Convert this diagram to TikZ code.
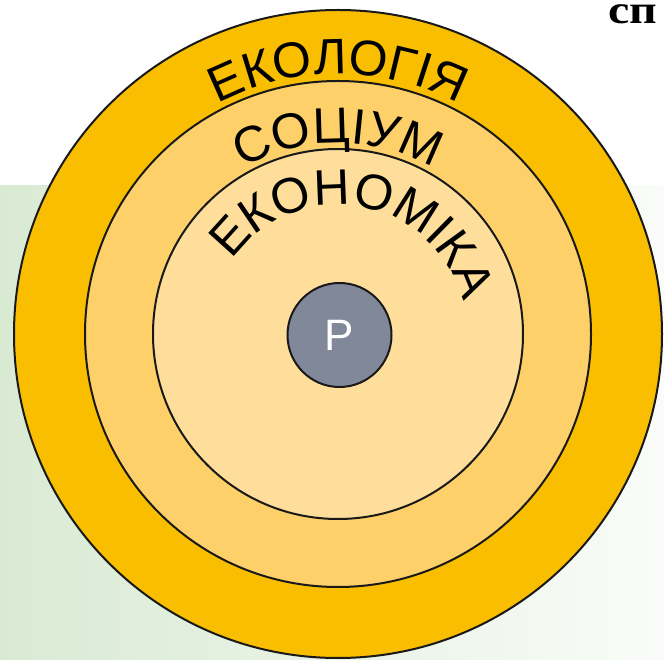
\documentclass[tikz,border=0pt]{standalone}
\usepackage{fontspec}
\setmainfont{Liberation Sans}
\newfontfamily\headfont{Liberation Serif}
\usepackage{tikz}
\usetikzlibrary{decorations.text}

\definecolor{ecoring}{HTML}{FABE00}
\definecolor{socring}{HTML}{FDD06A}
\definecolor{econring}{HTML}{FEDE9A}
\definecolor{personfill}{HTML}{808899}
\definecolor{bggreen}{HTML}{D9EAD3}

\newcommand{\ringfont}{\fontsize{50}{50}\selectfont}

\tikzset{
  ring/.style={draw=black!90, line width=2pt},
  ringlabel/.style={decorate, decoration={text along path, text align=center,
    text={|\ringfont|#1}}},
}

\begin{document}
\begin{tikzpicture}[x=1pt, y=1pt]
  % Page frame and faded background
  \useasboundingbox (0,0) rectangle (664,659);
  \fill[white] (0,0) rectangle (664,659);
  \shade[left color=bggreen, right color=bggreen!15] (0,0) rectangle (664,473);

  % Common centre of the rings
  \coordinate (c) at (338,325);

  % Rings, outer to inner
  \draw[ring, fill=ecoring] (c) circle[radius=324];
  \draw[ring, fill=socring] (c) circle[radius=253];
  \draw[ring, fill=econring] (c) circle[radius=185];

  % Labels bent along the rings
  \path[ringlabel=ЕКОЛОГІЯ] (c) ++(170:260) arc[start angle=170, end angle=10, radius=260];
  \path[ringlabel=СОЦІУМ] (c) ++(170:191) arc[start angle=170, end angle=10, radius=191];
  \path[ringlabel=ЕКОНОМІКА] (c) ++(170:129) arc[start angle=170, end angle=-10, radius=129];

  % Centre
  \node[ring, circle, fill=personfill, minimum size=104pt, inner sep=0pt,
    text=white, font=\fontsize{44}{44}\selectfont] (person) at (339.5,324) {Р};

  % Heading cut off at the edge
  \node[anchor=base west, inner sep=0pt, xscale=1.2,
    font=\headfont\bfseries\fontsize{40}{40}\selectfont] (heading) at (608,635) {сп};
\end{tikzpicture}
\end{document}
